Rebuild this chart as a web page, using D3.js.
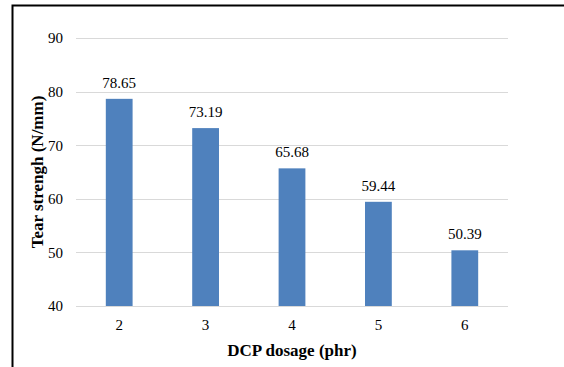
<!DOCTYPE html>
<html>
<head>
<meta charset="utf-8">
<script src="https://cdn.jsdelivr.net/npm/d3@7"></script>
<style>
  html, body { margin: 0; padding: 0; background: #fff; }
  svg { display: block; }
  svg text { font-family: "Liberation Serif", "Times New Roman", Times, serif; fill: #000; }
</style>
</head>
<body>
<svg id="chart" width="564" height="367"></svg>
<script>
// DCP dosage (phr) and measured tear strength (N/mm)
const categories = ["2", "3", "4", "5", "6"];
const tearStrength = [78.65, 73.19, 65.68, 59.44, 50.39];
const yTicks = [40, 50, 60, 70, 80, 90];

const serif = '"Liberation Serif", "Times New Roman", Times, serif';
const svg = d3.select("#chart");
const W = 564, H = 367;
const plot = { left: 76, right: 508, top: 38, bottom: 306 };

// outer frame (extends past the right and bottom edges)
svg.append("rect")
  .attr("x", 12.5).attr("y", 5.5)
  .attr("width", W).attr("height", H)
  .attr("fill", "none").attr("stroke", "#000").attr("stroke-width", 2);

const x = d3.scaleBand()
  .domain(categories)
  .range([plot.left, plot.right])
  .paddingInner(0.69).paddingOuter(0.345);

const y = d3.scaleLinear()
  .domain([40, 90])
  .range([plot.bottom, plot.top]);

// horizontal gridlines
svg.append("g")
  .selectAll("line")
  .data(yTicks)
  .join("line")
  .attr("x1", plot.left).attr("x2", plot.right)
  .attr("y1", d => Math.round(y(d)) + 0.5).attr("y2", d => Math.round(y(d)) + 0.5)
  .attr("stroke", "#d9d9d9").attr("stroke-width", 1);

// y axis labels
const yAxis = d3.axisLeft(y).tickValues(yTicks).tickSize(0).tickPadding(0);
svg.append("g")
  .attr("transform", `translate(${plot.left - 13},0)`)
  .call(yAxis)
  .attr("font-family", serif)
  .attr("font-size", 15)
  .call(g => g.select(".domain").remove())
  .selectAll("text")
  .attr("fill", "#000");

// x axis labels
const xAxis = d3.axisBottom(x).tickSize(0).tickPadding(0);
svg.append("g")
  .attr("transform", `translate(0,${plot.bottom + 13})`)
  .call(xAxis)
  .attr("font-family", serif)
  .attr("font-size", 15)
  .call(g => g.select(".domain").remove())
  .selectAll("text")
  .attr("fill", "#000");

// bars
svg.append("g")
  .selectAll("rect")
  .data(tearStrength)
  .join("rect")
  .attr("x", (d, i) => x(categories[i]))
  .attr("width", x.bandwidth())
  .attr("y", d => y(d))
  .attr("height", d => y(40) - y(d))
  .attr("fill", "#4f81bd");

// value labels
svg.append("g")
  .attr("font-family", serif)
  .attr("font-size", 15)
  .selectAll("text")
  .data(tearStrength)
  .join("text")
  .attr("x", (d, i) => x(categories[i]) + x.bandwidth() / 2)
  .attr("y", d => y(d) - 11)
  .attr("text-anchor", "middle")
  .text(d => d.toFixed(2));

// axis titles
svg.append("text")
  .attr("x", (plot.left + plot.right) / 2)
  .attr("y", 356)
  .attr("text-anchor", "middle")
  .attr("font-family", serif)
  .attr("font-size", 17)
  .attr("font-weight", "bold")
  .text("DCP dosage (phr)");

svg.append("text")
  .attr("transform", `translate(43,${(plot.top + plot.bottom) / 2}) rotate(-90)`)
  .attr("text-anchor", "middle")
  .attr("font-family", serif)
  .attr("font-size", 17)
  .attr("font-weight", "bold")
  .text("Tear strengh (N/mm)");
</script>
</body>
</html>
